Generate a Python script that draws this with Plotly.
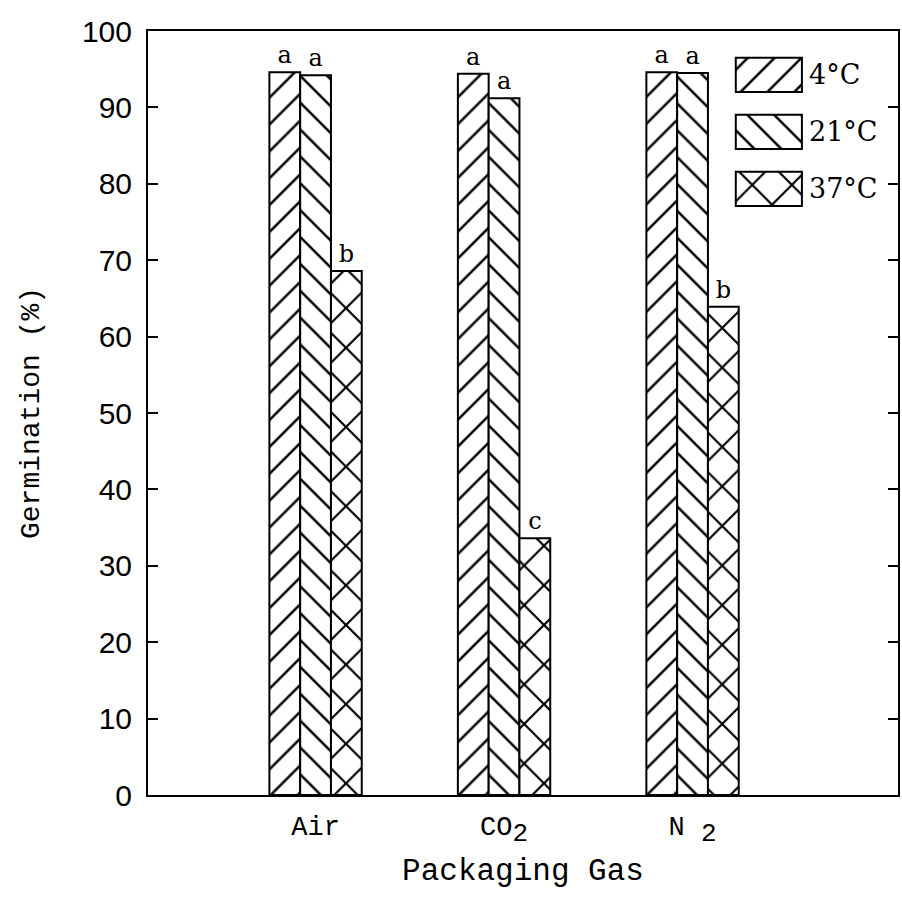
import plotly.graph_objects as go

# Germination (%) of seeds stored under three packaging gases at three temperatures
SUB2 = "<sub><span style=\"font-size:26px\">2</span></sub>"
gases = ["Air", "CO" + SUB2, "N " + SUB2]
temps = ["4°C", "21°C", "37°C"]
germ_4c = [94.6, 94.4, 94.6]
germ_21c = [94.2, 91.2, 94.5]
germ_37c = [68.6, 33.6, 63.9]
letters_4c = ["a", "a", "a"]
letters_21c = ["a", "a", "a"]
letters_37c = ["b", "c", "b"]
y_ticks = list(range(0, 101, 10))

series = [germ_4c, germ_21c, germ_37c]
letters = [letters_4c, letters_21c, letters_37c]
shapes = ["/", "\\", "x"]
hatch_sizes = [19, 19, 28]
solidities = [0.13, 0.13, 0.15]

MONO = "Liberation Mono"
SANS = "Liberation Sans"
SERIF = "DejaVu Serif"


def hatch(shape, size, solidity):
    return dict(shape=shape, size=size, solidity=solidity, fgcolor="#000000",
                fgopacity=1, bgcolor="white", fillmode="replace")


fig = go.Figure()

for name, vals, labs, shp, sz, sol in zip(temps, series, letters, shapes,
                                          hatch_sizes, solidities):
    fig.add_trace(go.Bar(
        x=gases, y=vals, name=name,
        text=labs, textposition="outside", cliponaxis=False,
        textfont=dict(family=SERIF, size=24, color="black"),
        marker=dict(
            color="white",
            line=dict(color="black", width=2),
            pattern=hatch(shp, sz, sol),
        ),
        showlegend=False,
    ))

# Hand-drawn key: patterned boxes on a small hidden subplot
fig.add_trace(go.Bar(
    x=[1, 1, 1], y=[0, 1, 2], base=0, orientation="h", width=0.6,
    xaxis="x2", yaxis="y2", showlegend=False, hoverinfo="skip",
    marker=dict(
        color="white",
        line=dict(color="black", width=2),
        pattern=hatch(shapes, hatch_sizes, solidities),
    ),
))
for i, name in enumerate(temps):
    fig.add_annotation(
        x=1, y=i, xref="x2", yref="y2", text=name, showarrow=False,
        xanchor="left", yanchor="middle", xshift=5,
        font=dict(family=SERIF, size=27, color="black"),
    )

fig.update_layout(
    width=902, height=916,
    margin=dict(l=148, r=2, t=31, b=121),
    paper_bgcolor="white", plot_bgcolor="white",
    barmode="group", bargap=0.51, bargroupgap=0,
    xaxis=dict(
        type="category", range=[-0.889, 3.09],
        showline=True, linecolor="black", linewidth=2, mirror=True,
        ticks="", showgrid=False, zeroline=False,
        tickfont=dict(family=MONO, size=27, color="black"),
        ticklabelstandoff=6,
        title=dict(text="Packaging Gas", standoff=10,
                   font=dict(family=MONO, size=31, color="black")),
    ),
    yaxis=dict(
        range=[0, 100], tickvals=y_ticks,
        showline=True, linecolor="black", linewidth=2, mirror="ticks",
        ticks="inside", ticklen=10, tickwidth=2, tickcolor="black",
        showgrid=False, zeroline=False,
        tickfont=dict(family=SANS, size=30, color="black"),
        ticklabelstandoff=8,
        title=dict(text="Germination (%)", standoff=34,
                   font=dict(family=MONO, size=28, color="black")),
    ),
    xaxis2=dict(domain=[0.7793, 0.8763], range=[-0.05, 1.05], anchor="y2",
                visible=False, fixedrange=True),
    yaxis2=dict(domain=[0.756, 0.98], range=[2.5, -0.5], anchor="x2",
                visible=False, fixedrange=True),
)

fig.write_html("out.html")
